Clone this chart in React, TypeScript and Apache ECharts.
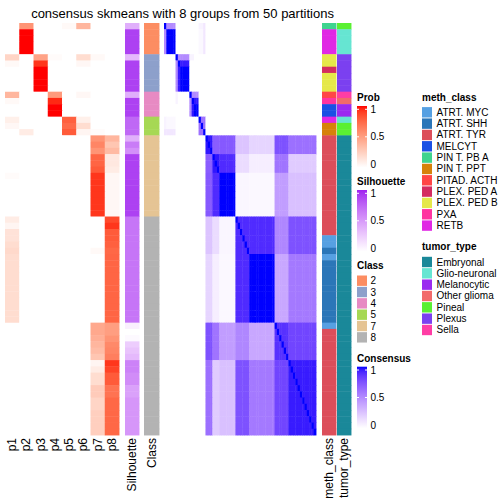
import React, { useEffect, useRef } from "react";
import * as echarts from "echarts";

const FONT = '"Liberation Sans", Arial, Helvetica, sans-serif';

// ---------- data ----------
const probLabels = ["p1", "p2", "p3", "p4", "p5", "p6", "p7", "p8"];

// membership probability per sample (rows) for p1..p8
const prob: number[][] = [
  [0, 0.55, 0, 0, 0.03, 0.38, 0, 0],
  [0, 1, 0, 0, 0, 0, 0, 0],
  [0, 1, 0, 0, 0, 0, 0, 0],
  [0, 1, 0, 0, 0, 0, 0, 0],
  [0, 1, 0, 0, 0, 0, 0, 0],
  [0.22, 0, 0.48, 0.02, 0, 0.18, 0.03, 0],
  [0.03, 0, 0.92, 0, 0, 0.04, 0, 0],
  [0, 0, 1, 0, 0, 0, 0, 0],
  [0, 0, 1, 0, 0, 0, 0, 0],
  [0, 0, 1, 0, 0, 0, 0, 0],
  [0, 0, 1, 0, 0, 0, 0, 0],
  [0.38, 0, 0, 0.52, 0, 0.04, 0, 0],
  [0.03, 0, 0, 0.95, 0, 0, 0, 0],
  [0, 0, 0, 1, 0, 0, 0, 0],
  [0, 0, 0, 1, 0, 0, 0, 0],
  [0.08, 0, 0, 0, 0.78, 0.08, 0, 0],
  [0.04, 0, 0, 0, 0.74, 0.18, 0, 0],
  [0, 0.1, 0, 0, 0.8, 0.05, 0.02, 0],
  [0, 0, 0, 0, 0, 0, 0.55, 0.38],
  [0, 0, 0, 0, 0, 0, 0.62, 0.3],
  [0, 0, 0, 0, 0, 0, 0.55, 0.36],
  [0, 0, 0, 0, 0, 0, 0.76, 0.12],
  [0, 0, 0, 0, 0, 0, 0.76, 0.12],
  [0, 0, 0, 0, 0, 0, 0.8, 0.1],
  [0.02, 0, 0, 0, 0, 0, 0.92, 0.04],
  [0, 0, 0, 0, 0, 0, 0.92, 0.04],
  [0, 0, 0, 0, 0, 0, 0.92, 0.04],
  [0, 0, 0, 0, 0, 0, 0.92, 0.04],
  [0, 0, 0, 0, 0, 0, 0.92, 0.04],
  [0, 0, 0, 0, 0, 0, 0.92, 0.04],
  [0, 0, 0, 0, 0, 0, 0.92, 0.04],
  [0.1, 0, 0, 0, 0, 0, 0, 0.86],
  [0.05, 0, 0, 0, 0, 0, 0, 0.92],
  [0.15, 0, 0, 0, 0, 0, 0, 0.8],
  [0.15, 0, 0, 0, 0, 0, 0, 0.8],
  [0.18, 0, 0, 0, 0, 0, 0, 0.78],
  [0.2, 0, 0, 0, 0, 0, 0.03, 0.75],
  [0.18, 0, 0, 0, 0, 0, 0, 0.76],
  [0.18, 0, 0, 0, 0, 0, 0, 0.76],
  [0.18, 0, 0, 0, 0, 0, 0, 0.76],
  [0.18, 0, 0, 0, 0, 0, 0, 0.76],
  [0.18, 0, 0, 0, 0, 0, 0, 0.76],
  [0.18, 0, 0, 0, 0, 0, 0, 0.76],
  [0.18, 0, 0, 0, 0, 0, 0, 0.76],
  [0.18, 0, 0, 0, 0, 0, 0, 0.76],
  [0.18, 0, 0, 0, 0, 0, 0, 0.76],
  [0.18, 0, 0, 0, 0, 0, 0, 0.76],
  [0.18, 0, 0, 0, 0, 0, 0, 0.76],
  [0, 0, 0, 0, 0, 0, 0.45, 0.5],
  [0, 0, 0, 0, 0, 0, 0.45, 0.5],
  [0, 0, 0, 0, 0, 0, 0.42, 0.55],
  [0, 0, 0, 0, 0, 0, 0.38, 0.6],
  [0, 0, 0, 0, 0, 0, 0.35, 0.62],
  [0, 0, 0, 0, 0, 0, 0.3, 0.65],
  [0, 0, 0, 0, 0, 0, 0.05, 0.92],
  [0, 0, 0, 0, 0, 0, 0.1, 0.88],
  [0, 0, 0, 0, 0, 0, 0.18, 0.8],
  [0, 0, 0, 0, 0, 0, 0.18, 0.8],
  [0, 0, 0, 0, 0, 0, 0.27, 0.7],
  [0, 0, 0, 0, 0, 0, 0.27, 0.7],
  [0, 0, 0, 0, 0, 0, 0.22, 0.75],
  [0, 0, 0, 0, 0, 0, 0.22, 0.75],
  [0, 0, 0, 0, 0, 0, 0.25, 0.75],
  [0, 0, 0, 0, 0, 0, 0.25, 0.75],
  [0, 0, 0, 0, 0, 0, 0.25, 0.75],
  [0, 0, 0, 0, 0, 0, 0.25, 0.75],
];

const silhouette: number[] = [
  0.4, 0.9, 0.9, 0.9, 0.9,
  0.35, 0.9, 0.9, 0.9, 0.9, 0.9,
  0.4, 0.9, 0.9, 0.9,
  0.74, 0.74, 0.74,
  0.4, 0.65, 0.55, 0.9, 0.9, 0.9, 0.9, 0.9, 0.9, 0.9, 0.9, 0.9, 0.9,
  0.68, 0.68, 0.68, 0.68, 0.68, 0.68, 0.68, 0.68, 0.68, 0.68, 0.68, 0.68, 0.68, 0.68, 0.68, 0.68, 0.68,
  0.08, 0, 0.03, 0.25, 0.3, 0.35, 0.62, 0.62, 0.57, 0.57, 0.47, 0.47, 0.52, 0.52, 0.52, 0.52, 0.52, 0.52,
];

const rowClass: number[] = [
  2, 2, 2, 2, 2,
  3, 3, 3, 3, 3, 3,
  4, 4, 4, 4,
  5, 5, 5,
  7, 7, 7, 7, 7, 7, 7, 7, 7, 7, 7, 7, 7,
  8, 8, 8, 8, 8, 8, 8, 8, 8, 8, 8, 8, 8, 8, 8, 8, 8,
  8, 8, 8, 8, 8, 8, 8, 8, 8, 8, 8, 8, 8, 8, 8, 8, 8, 8,
];

const methClass: string[] = [
  "PIN T. PB A", "RETB", "RETB", "RETB", "RETB",
  "PLEX. PED B", "PLEX. PED B", "PLEX. PED A", "PLEX. PED B", "PLEX. PED B", "PLEX. PED B",
  "PITAD. ACTH", "PXA", "MELCYT", "MELCYT",
  "RETB", "PIN T. PPT", "PIN T. PPT",
  "ATRT. TYR", "ATRT. TYR", "ATRT. TYR", "ATRT. TYR", "ATRT. TYR", "ATRT. TYR", "ATRT. TYR",
  "ATRT. TYR", "ATRT. TYR", "ATRT. TYR", "ATRT. TYR", "ATRT. TYR", "ATRT. TYR",
  "ATRT. TYR", "ATRT. TYR", "ATRT. TYR", "ATRT. MYC", "ATRT. MYC", "ATRT. SHH", "ATRT. MYC",
  "ATRT. SHH", "ATRT. SHH", "ATRT. SHH", "ATRT. SHH", "ATRT. SHH", "ATRT. SHH", "ATRT. SHH",
  "ATRT. SHH", "ATRT. SHH", "ATRT. SHH",
  "ATRT. MYC", "ATRT. TYR", "ATRT. TYR", "ATRT. TYR", "ATRT. TYR", "ATRT. TYR", "ATRT. TYR",
  "ATRT. TYR", "ATRT. TYR", "ATRT. TYR", "ATRT. TYR", "ATRT. TYR", "ATRT. TYR", "ATRT. TYR",
  "ATRT. TYR", "ATRT. TYR", "ATRT. TYR", "ATRT. TYR",
];

const tumorType: string[] = [
  "Pineal", "Glio-neuronal", "Glio-neuronal", "Glio-neuronal", "Glio-neuronal",
  "Plexus", "Plexus", "Plexus", "Plexus", "Plexus", "Plexus",
  "Sella", "Other glioma", "Melanocytic", "Melanocytic",
  "Glio-neuronal", "Pineal", "Pineal",
  ...Array(48).fill("Embryonal"),
];

// consensus: sub-group of each sample, and consensus values between sub-groups
const subgroup: number[] = [
  0, 1, 1, 1, 1,
  2, 3, 4, 4, 4, 4,
  5, 6, 7, 7,
  8, 8, 9,
  10, 10, 10, 11, 11, 11, 12, 12, 12, 12, 12, 12, 12,
  13, 13, 13, 13, 13, 13, 14, 14, 14, 14, 14, 14, 14, 14, 14, 14, 14,
  15, 15, 15, 15, 15, 15, 16, 16, 16, 16, 16, 16, 16, 16, 16, 16, 16, 16,
];

// [groupA, groupB, consensus]
const groupConsensus: [number, number, number][] = [
  [0, 0, 1], [0, 1, 0.5], [0, 8, 0.05], [0, 9, 0.1],
  [1, 1, 1], [1, 8, 0.03], [1, 9, 0.1],
  [2, 2, 1], [2, 3, 0.5], [2, 4, 0.5], [2, 5, 0.05], [2, 6, 0.05],
  [3, 3, 1], [3, 4, 0.95],
  [4, 4, 1],
  [5, 5, 1], [5, 6, 0.5], [5, 7, 0.5],
  [6, 6, 1], [6, 7, 0.96],
  [7, 7, 1],
  [8, 8, 0.62], [8, 9, 0.62],
  [9, 9, 1],
  [10, 10, 0.96], [10, 11, 0.7], [10, 12, 0.72], [10, 13, 0.25], [10, 14, 0.18], [10, 15, 0.75], [10, 16, 0.62],
  [11, 11, 0.96], [11, 12, 0.9], [11, 13, 0.15], [11, 14, 0.07], [11, 15, 0.6], [11, 16, 0.22],
  [12, 12, 1], [12, 13, 0.04], [12, 14, 0.03], [12, 15, 0.42], [12, 16, 0.27],
  [13, 13, 0.9], [13, 14, 0.9], [13, 15, 0.52], [13, 16, 0.75],
  [14, 14, 1], [14, 15, 0.38], [14, 16, 0.58],
  [15, 15, 0.88], [15, 16, 0.8],
  [16, 16, 0.95],
];

const classLevels = [2, 3, 4, 5, 7, 8];
const classColors: Record<number, string> = {
  2: "#FC8D62", 3: "#8DA0CB", 4: "#E78AC3", 5: "#A6D854", 7: "#E5C494", 8: "#B3B3B3",
};
const methLevels = [
  "ATRT. MYC", "ATRT. SHH", "ATRT. TYR", "MELCYT", "PIN T. PB A", "PIN T. PPT",
  "PITAD. ACTH", "PLEX. PED A", "PLEX. PED B", "PXA", "RETB",
];
const methColors: Record<string, string> = {
  "ATRT. MYC": "#56A0E2", "ATRT. SHH": "#2B76B8", "ATRT. TYR": "#DC4E5A", "MELCYT": "#1A50E4",
  "PIN T. PB A": "#3ED48E", "PIN T. PPT": "#D6820A", "PITAD. ACTH": "#FF4646",
  "PLEX. PED A": "#D42C60", "PLEX. PED B": "#E5E84A", "PXA": "#FF34A0", "RETB": "#E028E4",
};
const tumorLevels = ["Embryonal", "Glio-neuronal", "Melanocytic", "Other glioma", "Pineal", "Plexus", "Sella"];
const tumorColors: Record<string, string> = {
  "Embryonal": "#1A8899", "Glio-neuronal": "#66E5D2", "Melanocytic": "#9B2AF0",
  "Other glioma": "#F26A6A", "Pineal": "#5AF032", "Plexus": "#7B40F0", "Sella": "#FF3DA5",
};

// ---------- colour helpers (LAB interpolation) ----------
function hexToRgb(h: string): number[] {
  const s = h.replace("#", "");
  return [0, 2, 4].map((i) => parseInt(s.slice(i, i + 2), 16));
}
function toLin(c: number) { c /= 255; return c <= 0.04045 ? c / 12.92 : Math.pow((c + 0.055) / 1.055, 2.4); }
function fromLin(c: number) { const v = c <= 0.0031308 ? 12.92 * c : 1.055 * Math.pow(c, 1 / 2.4) - 0.055; return Math.max(0, Math.min(255, Math.round(v * 255))); }
const WX = 0.95047, WY = 1, WZ = 1.08883;
function fLab(t: number) { return t > 0.008856 ? Math.cbrt(t) : 7.787 * t + 16 / 116; }
function fInv(t: number) { return t > 0.206893 ? t * t * t : (t - 16 / 116) / 7.787; }
function rgbToLab(rgb: number[]) {
  const [r, g, b] = rgb.map(toLin);
  const X = 0.4124564 * r + 0.3575761 * g + 0.1804375 * b;
  const Y = 0.2126729 * r + 0.7151522 * g + 0.072175 * b;
  const Z = 0.0193339 * r + 0.119192 * g + 0.9503041 * b;
  const fx = fLab(X / WX), fy = fLab(Y / WY), fz = fLab(Z / WZ);
  return [116 * fy - 16, 500 * (fx - fy), 200 * (fy - fz)];
}
function labToHex(lab: number[]) {
  const fy = (lab[0] + 16) / 116, fx = fy + lab[1] / 500, fz = fy - lab[2] / 200;
  const X = fInv(fx) * WX, Y = fInv(fy) * WY, Z = fInv(fz) * WZ;
  const r = 3.2404542 * X - 1.5371385 * Y - 0.4985314 * Z;
  const g = -0.969266 * X + 1.8760108 * Y + 0.041556 * Z;
  const b = 0.0556434 * X - 0.2040259 * Y + 1.0572252 * Z;
  return "#" + [r, g, b].map((c) => fromLin(c).toString(16).padStart(2, "0")).join("");
}
function ramp(c0: string, c1: string) {
  const a = rgbToLab(hexToRgb(c0)), b = rgbToLab(hexToRgb(c1));
  return (v: number) => labToHex(a.map((x, i) => x + (b[i] - x) * Math.max(0, Math.min(1, v))));
}
const probCol = ramp("#FFFFFF", "#FF0000");
const silCol = ramp("#FFFFFF", "#A020F0");
const consCol = ramp("#FFFFFF", "#0000FF");

// ---------- layout ----------
const TOP = 23;
const HEIGHT = 412;
const panels = [
  { key: "prob", left: 5, width: 114 },
  { key: "sil", left: 125, width: 14 },
  { key: "class", left: 144, width: 15 },
  { key: "cons", left: 164, width: 152 },
  { key: "meth", left: 322, width: 14 },
  { key: "tumor", left: 337, width: 14 },
];

function cellSeries(gridIndex: number, data: number[][], colors: string[]) {
  return {
    type: "custom",
    xAxisIndex: gridIndex,
    yAxisIndex: gridIndex,
    silent: true,
    data,
    renderItem: (params: any, api: any) => {
      const c = api.coord([api.value(0), api.value(1)]);
      const s = api.size([1, 1]);
      return {
        type: "rect",
        shape: { x: c[0] - s[0] / 2, y: c[1] - s[1] / 2, width: s[0] + 0.45, height: s[1] + 0.45 },
        style: { fill: colors[params.dataIndex], stroke: null },
      };
    },
  };
}

function buildOption() {
  const N = rowClass.length;
  const rowIds = rowClass.map((_, i) => String(i));

  const gc: Record<string, number> = {};
  groupConsensus.forEach(([a, b, v]) => { gc[a + "_" + b] = v; gc[b + "_" + a] = v; });

  const probData: number[][] = [], probColors: string[] = [];
  prob.forEach((row, r) => row.forEach((v, c) => { probData.push([c, r]); probColors.push(probCol(v)); }));
  const silData = silhouette.map((_, r) => [0, r]);
  const silColors = silhouette.map((v) => silCol(v));
  const classData = rowClass.map((_, r) => [0, r]);
  const classCols = rowClass.map((k) => classColors[k]);
  const consData: number[][] = [], consColors: string[] = [];
  for (let r = 0; r < N; r++) for (let c = 0; c < N; c++) {
    const v = r === c ? 1 : (gc[subgroup[r] + "_" + subgroup[c]] ?? 0);
    consData.push([c, r]); consColors.push(consCol(v));
  }
  const methData = methClass.map((_, r) => [0, r]);
  const methCols = methClass.map((m) => methColors[m]);
  const tumorData = tumorType.map((_, r) => [0, r]);
  const tumorCols = tumorType.map((t) => tumorColors[t]);

  const xLabels: Record<string, string[]> = {
    prob: probLabels, sil: ["Silhouette"], class: ["Class"], cons: rowIds, meth: ["meth_class"], tumor: ["tumor_type"],
  };

  const grid = panels.map((p) => ({
    left: p.left, top: TOP, width: p.width, height: HEIGHT, containLabel: false, outerBoundsMode: "none",
  }));
  const xAxis = panels.map((p, i) => ({
    type: "category", gridIndex: i, data: xLabels[p.key], position: "bottom",
    axisLine: { show: false }, axisTick: { show: false }, splitLine: { show: false },
    axisLabel: {
      show: p.key !== "cons", rotate: 90, interval: 0, margin: 3, fontSize: 12, color: "#000", fontFamily: FONT,
    },
  }));
  const yAxis = panels.map((_, i) => ({
    type: "category", gridIndex: i, data: rowIds, inverse: true, show: false,
  }));

  const series = [
    cellSeries(0, probData, probColors),
    cellSeries(1, silData, silColors),
    cellSeries(2, classData, classCols),
    cellSeries(3, consData, consColors),
    cellSeries(4, methData, methCols),
    cellSeries(5, tumorData, tumorCols),
  ];

  // ---------- legends ----------
  const g: any[] = [];
  const txt = (x: number, y: number, text: string, bold = false, size = 10) => g.push({
    type: "text", x, y, silent: true,
    style: {
      text, fill: "#000", font: `${bold ? "bold " : ""}${size}px ${FONT}`,
      textAlign: "left", textVerticalAlign: "middle", align: "left", verticalAlign: "middle",
    },
  });
  const gradBar = (x: number, y0: number, y1: number, fn: (v: number) => string, labelYs: number[]) => {
    const stops = [];
    for (let i = 0; i <= 20; i++) stops.push({ offset: i / 20, color: fn(1 - i / 20) });
    g.push({
      type: "rect", silent: true, shape: { x, y: y0, width: 10, height: y1 - y0 },
      style: { fill: { type: "linear", x: 0, y: 0, x2: 0, y2: 1, colorStops: stops } },
    });
    labelYs.slice(0, 2).forEach((ly) => {
      g.push({ type: "line", silent: true, shape: { x1: x, y1: ly, x2: x + 2, y2: ly }, style: { stroke: "#FFFFFF", lineWidth: 1 } });
      g.push({ type: "line", silent: true, shape: { x1: x + 8, y1: ly, x2: x + 10, y2: ly }, style: { stroke: "#FFFFFF", lineWidth: 1 } });
    });
    txt(x + 13.5, labelYs[0], "1");
    txt(x + 13.5, labelYs[1], "0.5");
    txt(x + 13.5, labelYs[2], "0");
  };
  const LX = 357;
  txt(LX, 97.5, "Prob", true);
  gradBar(LX, 106, 167.5, probCol, [109.3, 136.8, 164.3]);
  txt(LX, 181.7, "Silhouette", true);
  gradBar(LX, 190, 251.5, silCol, [193.3, 220.8, 248.3]);
  txt(LX, 265.7, "Class", true);
  classLevels.forEach((k, i) => {
    const cy = 280.7 + 11.33 * i;
    g.push({ type: "rect", silent: true, shape: { x: LX, y: cy - 5.2, width: 10, height: 10.4 }, style: { fill: classColors[k] } });
    txt(LX + 13.5, cy, String(k));
  });
  txt(LX, 358.3, "Consensus", true);
  gradBar(LX, 366.7, 428.2, consCol, [370, 397.5, 425]);

  const RX = 422;
  txt(RX, 97.7, "meth_class", true);
  methLevels.forEach((m, i) => {
    const cy = 112.3 + 11.33 * i;
    g.push({ type: "rect", silent: true, shape: { x: RX, y: cy - 5.2, width: 10, height: 10.4 }, style: { fill: methColors[m] } });
    txt(RX + 14.5, cy, m);
  });
  txt(RX, 246.7, "tumor_type", true);
  tumorLevels.forEach((t, i) => {
    const cy = 262 + 11.33 * i;
    g.push({ type: "rect", silent: true, shape: { x: RX, y: cy - 5.2, width: 10, height: 10.4 }, style: { fill: tumorColors[t] } });
    txt(RX + 14.5, cy, t);
  });

  return {
    animation: false,
    backgroundColor: "#FFFFFF",
    title: {
      text: "consensus skmeans with 8 groups from 50 partitions",
      left: 177.5, top: 2, textAlign: "center",
      textStyle: { fontSize: 13, fontWeight: "normal", color: "#000", fontFamily: FONT },
    },
    grid, xAxis, yAxis, series, graphic: g,
  };
}

export default function App() {
  const ref = useRef<HTMLDivElement>(null);
  useEffect(() => {
    if (!ref.current) return;
    const chart = echarts.init(ref.current, undefined, { renderer: "svg" });
    chart.setOption(buildOption() as any);
    return () => chart.dispose();
  }, []);
  return (
    <div
      ref={ref}
      style={{ position: "fixed", left: 0, top: 0, width: 504, height: 504, background: "#fff" }}
    />
  );
}
